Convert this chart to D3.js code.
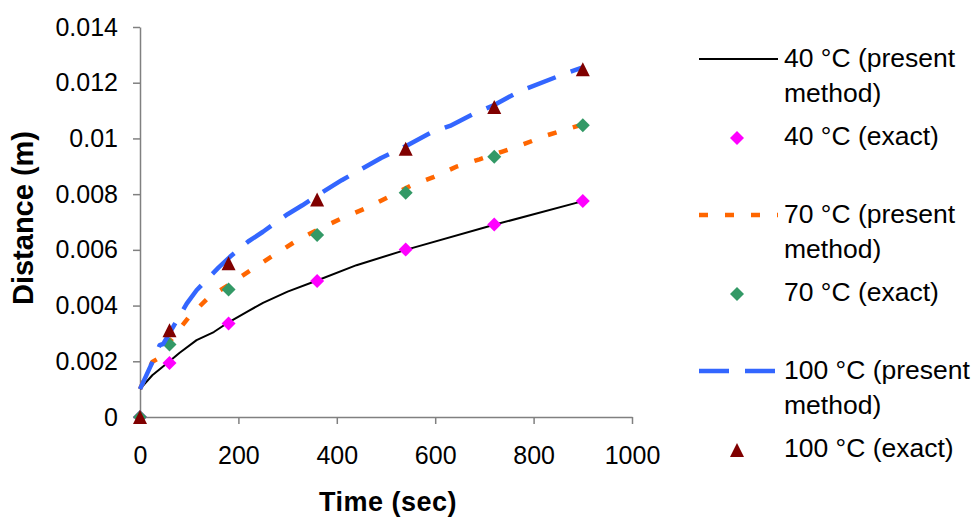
<!DOCTYPE html>
<html>
<head>
<meta charset="utf-8">
<script src="https://cdn.jsdelivr.net/npm/d3@7"></script>
<style>
  body { margin: 0; background: #fff; }
  svg { display: block; font-family: "Liberation Sans", Arial, sans-serif; }
</style>
</head>
<body>
<svg id="chart"></svg>
<script>
// Data
const exactTimes = [0, 60, 180, 360, 540, 720, 900];
const exact40 = [0, 0.00194, 0.00336, 0.00488, 0.00601, 0.00691, 0.00775];
const exact70 = [0, 0.0026, 0.00458, 0.00653, 0.00805, 0.00934, 0.01047];
const exact100 = [0, 0.00311, 0.00552, 0.00781, 0.00963, 0.01113, 0.01248];

const times40 = [0, 25, 60, 80, 115, 150, 180, 220, 250, 300, 360, 440, 540, 720, 900];
const present40 = [0.001, 0.0015, 0.002, 0.0023, 0.00276, 0.00305, 0.0034, 0.0038, 0.0041, 0.0045, 0.0049, 0.00545, 0.006, 0.0069, 0.00775];

const times70 = [0, 25, 37, 60, 100, 140, 190, 240, 280, 320, 370, 410, 460, 505, 550, 595, 645, 690, 735, 775, 825, 875, 900];
const present70 = [0.001, 0.00198, 0.0021, 0.0027, 0.0036, 0.0043, 0.00485, 0.00545, 0.0059, 0.00635, 0.0068, 0.00713, 0.0075, 0.0079, 0.0083, 0.0086, 0.009, 0.00925, 0.00952, 0.00976, 0.0101, 0.01037, 0.0105];

const times100 = [0, 27, 40, 47, 95, 115, 160, 183, 220, 250, 300, 330, 360, 410, 490, 540, 590, 630, 680, 720, 770, 860, 900];
const present100 = [0.001, 0.00204, 0.00258, 0.00262, 0.00407, 0.00455, 0.00537, 0.00575, 0.0063, 0.00665, 0.00728, 0.0076, 0.00795, 0.0085, 0.0093, 0.00972, 0.0102, 0.01045, 0.0109, 0.0112, 0.01168, 0.0123, 0.01255];

const xTicks = [0, 200, 400, 600, 800, 1000];
const yTicks = [0, 0.002, 0.004, 0.006, 0.008, 0.01, 0.012, 0.014];
const yTickLabels = ["0", "0.002", "0.004", "0.006", "0.008", "0.01", "0.012", "0.014"];

const legendLabels = [
  ["40 °C (present", "method)"],
  ["40 °C (exact)"],
  ["70 °C (present", "method)"],
  ["70 °C (exact)"],
  ["100 °C (present", "method)"],
  ["100 °C (exact)"]
];

const width = 977;
const height = 518;

const svg = d3.select("#chart")
  .attr("width", width)
  .attr("height", height);

svg.append("rect")
  .attr("width", width)
  .attr("height", height)
  .attr("fill", "#fff");

// Scales
const xScale = d3.scaleLinear().domain([0, 1000]).range([140, 632]);
const yScale = d3.scaleLinear().domain([0, 0.014]).range([417, 27]);

// Custom triangle marker (width = height)
const triangle = {
  draw(context, size) {
    const r = Math.sqrt(size) / 2;
    context.moveTo(0, -r);
    context.lineTo(r, r);
    context.lineTo(-r, r);
    context.closePath();
  }
};

// Series, in the order they are drawn
const series = [
  { type: "line", times: times40, values: present40, color: "#000000", width: 2, dash: null },
  { type: "marker", times: exactTimes, values: exact40, color: "#FF00FF", shape: "diamond" },
  { type: "line", times: times70, values: present70, color: "#FF6600", width: 4.5, dash: "9,17" },
  { type: "marker", times: exactTimes, values: exact70, color: "#339966", shape: "diamond" },
  { type: "line", times: times100, values: present100, color: "#3366FF", width: 4.5, dash: "30,16" },
  { type: "marker", times: exactTimes, values: exact100, color: "#800000", shape: "triangle" }
];

const symbolPath = shape => shape === "triangle"
  ? d3.symbol().type(triangle).size(196)()
  : d3.symbol().type(d3.symbolSquare).size(98)();

const symbolRotate = shape => shape === "triangle" ? "" : " rotate(45)";

// Axes
const xAxis = d3.axisBottom(xScale)
  .tickValues(xTicks)
  .tickFormat(d3.format("d"))
  .tickSize(7)
  .tickSizeOuter(0)
  .tickPadding(22);

const yAxis = d3.axisLeft(yScale)
  .tickValues(yTicks)
  .tickFormat((d, i) => yTickLabels[i])
  .tickSize(7)
  .tickSizeOuter(0)
  .tickPadding(15);

const gx = svg.append("g")
  .attr("transform", "translate(0," + yScale(0) + ")")
  .call(xAxis);

const gy = svg.append("g")
  .attr("transform", "translate(" + xScale(0) + ",0)")
  .call(yAxis);

[gx, gy].forEach(g => {
  g.select(".domain").attr("stroke", "#808080").attr("stroke-width", 1.5);
  g.selectAll(".tick line").attr("stroke", "#808080").attr("stroke-width", 1.5);
  g.selectAll(".tick text")
    .attr("fill", "#000")
    .style("font-size", "25px")
    .style("font-family", "'Liberation Sans', Arial, sans-serif");
});

// Axis titles
svg.append("text")
  .attr("x", 388)
  .attr("y", 511)
  .attr("text-anchor", "middle")
  .style("font-size", "27px")
  .style("font-weight", "bold")
  .style("letter-spacing", "0.5px")
  .text("Time (sec)");

svg.append("text")
  .attr("transform", "translate(33,218) rotate(-90)")
  .attr("text-anchor", "middle")
  .style("font-size", "29px")
  .style("font-weight", "bold")
  .text("Distance (m)");

// Plot series
const line = d3.line()
  .x(d => xScale(d[0]))
  .y(d => yScale(d[1]));

series.forEach(s => {
  const pts = s.times.map((t, i) => [t, s.values[i]]);
  if (s.type === "line") {
    svg.append("path")
      .datum(pts)
      .attr("fill", "none")
      .attr("stroke", s.color)
      .attr("stroke-width", s.width)
      .attr("stroke-dasharray", s.dash)
      .attr("stroke-linejoin", "round")
      .attr("d", line);
  } else {
    svg.append("g")
      .selectAll("path")
      .data(pts)
      .enter()
      .append("path")
      .attr("d", symbolPath(s.shape))
      .attr("transform", d => "translate(" + xScale(d[0]) + "," + yScale(d[1]) + ")" + symbolRotate(s.shape))
      .attr("fill", s.color);
  }
});

// Legend
const legendRowY = [67, 145, 223, 301, 379, 457];
const legend = svg.append("g");

series.forEach((s, i) => {
  const baseY = legendRowY[i];
  if (s.type === "line") {
    legend.append("line")
      .attr("x1", 699)
      .attr("x2", 778)
      .attr("y1", baseY - 8)
      .attr("y2", baseY - 8)
      .attr("stroke", s.color)
      .attr("stroke-width", s.width)
      .attr("stroke-dasharray", s.dash);
  } else {
    legend.append("path")
      .attr("d", symbolPath(s.shape))
      .attr("transform", "translate(737," + (baseY - 7) + ")" + symbolRotate(s.shape))
      .attr("fill", s.color);
  }
  legendLabels[i].forEach((txt, j) => {
    legend.append("text")
      .attr("x", 784)
      .attr("y", baseY + j * 35)
      .style("font-size", "26.5px")
      .attr("fill", "#000")
      .text(txt);
  });
});
</script>
</body>
</html>
